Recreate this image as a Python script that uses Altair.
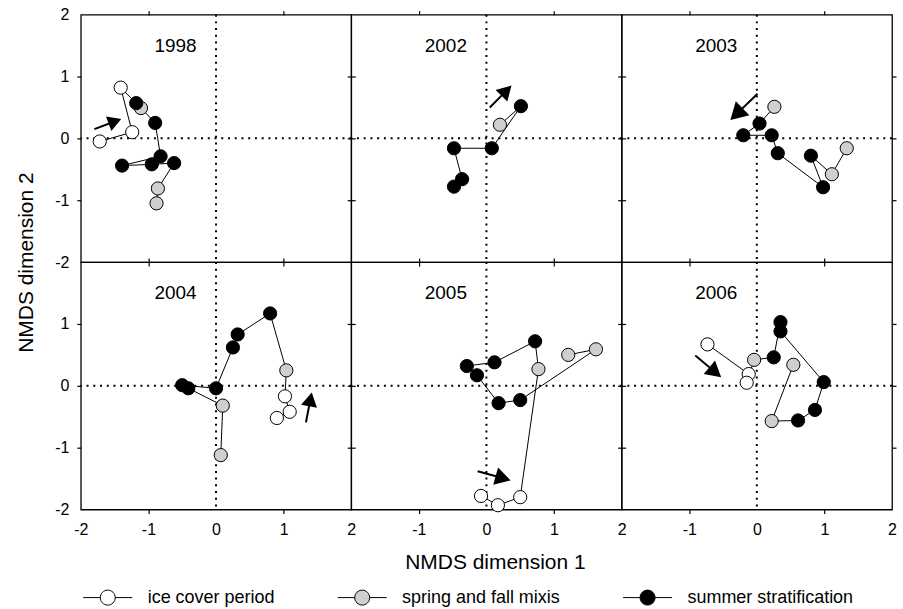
import numpy as np
import pandas as pd
import altair as alt

FONT = "Liberation Sans"
ICE, MIX, STRAT = "ice cover period", "spring and fall mixis", "summer stratification"
PHASES = [ICE, MIX, STRAT]
PHASE_FILLS = ["#ffffff", "#cfcfcf", "#000000"]

YEARS = ["1998", "2002", "2003", "2004", "2005", "2006"]

# NMDS trajectories (points in sampling order)
X_1998 = [-1.72, -1.24, -1.41, -1.11, -1.18, -0.90, -0.82, -1.39, -0.95, -0.62, -0.86, -0.88]
Y_1998 = [-0.05, 0.10, 0.82, 0.49, 0.57, 0.25, -0.29, -0.44, -0.42, -0.40, -0.81, -1.05]
P_1998 = [ICE, ICE, ICE, MIX, STRAT, STRAT, STRAT, STRAT, STRAT, STRAT, MIX, MIX]

X_2002 = [-0.48, -0.36, -0.48, 0.08, 0.51, 0.20]
Y_2002 = [-0.78, -0.66, -0.16, -0.16, 0.52, 0.22]
P_2002 = [STRAT, STRAT, STRAT, STRAT, STRAT, MIX]

X_2003 = [0.26, 0.04, -0.20, 0.22, 0.31, 0.98, 0.80, 1.11, 1.33]
Y_2003 = [0.51, 0.24, 0.05, 0.05, -0.24, -0.79, -0.28, -0.58, -0.16]
P_2003 = [MIX, STRAT, STRAT, STRAT, STRAT, STRAT, STRAT, MIX, MIX]

X_2004 = [0.90, 1.09, 1.02, 1.04, 0.80, 0.32, 0.25, 0.00, -0.50, -0.41, 0.10, 0.07]
Y_2004 = [-0.52, -0.42, -0.17, 0.25, 1.17, 0.83, 0.62, -0.04, 0.01, -0.04, -0.32, -1.12]
P_2004 = [ICE, ICE, ICE, MIX, STRAT, STRAT, STRAT, STRAT, STRAT, STRAT, MIX, MIX]

X_2005 = [-0.08, 0.17, 0.50, 0.77, 0.72, 0.12, -0.29, -0.14, 0.18, 0.50, 1.62, 1.21]
Y_2005 = [-1.78, -1.93, -1.80, 0.27, 0.72, 0.38, 0.32, 0.17, -0.28, -0.23, 0.59, 0.50]
P_2005 = [ICE, ICE, ICE, MIX, STRAT, STRAT, STRAT, STRAT, STRAT, STRAT, MIX, MIX]

X_2006 = [-0.73, -0.12, -0.15, -0.04, 0.25, 0.35, 0.35, 0.99, 0.86, 0.61, 0.22, 0.54]
Y_2006 = [0.67, 0.19, 0.05, 0.42, 0.46, 1.03, 0.88, 0.06, -0.39, -0.56, -0.57, 0.34]
P_2006 = [ICE, ICE, ICE, MIX, STRAT, STRAT, STRAT, STRAT, STRAT, STRAT, MIX, MIX]

# direction arrows (tail -> head), one per year
ARROW_X0 = [-1.80, 0.05, 0.01, 1.33, -0.13, -0.91]
ARROW_Y0 = [0.15, 0.50, 0.72, -0.59, -1.38, 0.49]
ARROW_X1 = [-1.43, 0.35, -0.37, 1.41, 0.33, -0.55]
ARROW_Y1 = [0.30, 0.83, 0.32, -0.14, -1.52, 0.16]

YEAR_LABEL_X = -0.6
YEAR_LABEL_Y = 1.5

SERIES = {
    "1998": (X_1998, Y_1998, P_1998),
    "2002": (X_2002, Y_2002, P_2002),
    "2003": (X_2003, Y_2003, P_2003),
    "2004": (X_2004, Y_2004, P_2004),
    "2005": (X_2005, Y_2005, P_2005),
    "2006": (X_2006, Y_2006, P_2006),
}

W, H = 271, 248
DOM = [-2, 2]
TICKS = [-2, -1, 0, 1, 2]
XTICK_COLOR = {"condition": {"test": "abs(datum.value) == 1", "value": "black"}, "value": "transparent"}
YTICK_COLOR = {"condition": {"test": "abs(datum.value) <= 1", "value": "black"}, "value": "transparent"}

ARROW_SHAPE = "M0,1L0,-0.3M-0.45,-0.22L0,-1L0.45,-0.22Z"
LEGEND_SHAPE = "M-3.27,0H-1M1,0H3.27M-1,0A1,1,0,1,0,1,0A1,1,0,1,0,-1,0Z"


def sc():
    return alt.Scale(domain=DOM, nice=False, zero=False)


def axis(orient, show_labels, tick_color, hide_value=None, **extra):
    kw = dict(orient=orient, values=TICKS, domain=False, grid=False, ticks=True,
              tickSize=4, tickWidth=1.2, tickColor=tick_color, labels=show_labels,
              labelFont=FONT, labelFontSize=16, labelColor="black", labelFlush=False,
              labelOverlap=False, labelPadding=8, title=None)
    if hide_value is not None:
        kw["labelExpr"] = f"datum.value == {hide_value} ? '' : toString(datum.value)"
    else:
        kw["labelExpr"] = "toString(datum.value)"
    kw.update(extra)
    return alt.Axis(**kw)


LEGEND = alt.Legend(title=None, orient="none", legendX=18, legendY=575,
                    direction="horizontal", symbolType=LEGEND_SHAPE, symbolSize=225,
                    symbolStrokeColor="black", symbolStrokeWidth=1,
                    labelFont=FONT, labelFontSize=18, labelColor="black", labelLimit=0,
                    labelOffset=31, columnPadding=60)


def panel(idx, year):
    col, row = idx % 3, idx // 3
    xs, ys, ps = SERIES[year]
    df = pd.DataFrame({"x": xs, "y": ys, "phase": ps, "seq": list(range(len(xs)))})
    zero = pd.DataFrame({"v": [0.0]})

    xkw = {}
    if row == 1 and col == 1:
        xkw = dict(title="NMDS dimension 1", titleX=144, titleY=59, titleAlign="center",
                   titleBaseline="alphabetic", titleAngle=0, titleFont=FONT,
                   titleFontSize=21, titleFontWeight="normal", titleColor="black")
    x_axis = axis("bottom", row == 1, XTICK_COLOR,
                  hide_value=(-2 if col > 0 else None), **xkw)
    ykw = {}
    if row == 0 and col == 0:
        ykw = dict(title="NMDS dimension 2", titleX=-54, titleY=H, titleAlign="center",
                   titleBaseline="middle", titleAngle=270, titleFont=FONT,
                   titleFontSize=21, titleFontWeight="normal", titleColor="black")
    y_axis = axis("left", col == 0, YTICK_COLOR,
                  hide_value=(2 if row > 0 else None), **ykw)

    vrule = alt.Chart(zero).mark_rule(color="black", strokeWidth=2, strokeDash=[2, 4.75]).encode(
        x=alt.X("v:Q", scale=sc(), axis=x_axis))
    hrule = alt.Chart(zero).mark_rule(color="black", strokeWidth=2, strokeDash=[2, 4.75]).encode(
        y=alt.Y("v:Q", scale=sc(), axis=y_axis))

    line = alt.Chart(df).mark_line(color="black", strokeWidth=1).encode(
        x=alt.X("x:Q", scale=sc(), axis=None),
        y=alt.Y("y:Q", scale=sc(), axis=None),
        order="seq:Q")

    pts = alt.Chart(df).mark_point(shape="circle", filled=True, size=175, stroke="black",
                                   strokeWidth=1, opacity=1).encode(
        x=alt.X("x:Q", scale=sc(), axis=None),
        y=alt.Y("y:Q", scale=sc(), axis=None),
        fill=alt.Fill("phase:N", scale=alt.Scale(domain=PHASES, range=PHASE_FILLS), legend=LEGEND))

    i = YEARS.index(year)
    dxp = (ARROW_X1[i] - ARROW_X0[i]) * W / 4
    dyp = (ARROW_Y1[i] - ARROW_Y0[i]) * H / 4
    ang = float(np.degrees(np.arctan2(dxp, dyp)) % 360)
    length = float(np.hypot(dxp, dyp))
    adf = pd.DataFrame({"x": [(ARROW_X0[i] + ARROW_X1[i]) / 2],
                        "y": [(ARROW_Y0[i] + ARROW_Y1[i]) / 2],
                        "angle": [ang], "size": [length ** 2]})
    arrow = alt.Chart(adf).mark_point(shape=ARROW_SHAPE, filled=True, fill="black",
                                      stroke="black", strokeWidth=2, opacity=1).encode(
        x=alt.X("x:Q", scale=sc(), axis=None),
        y=alt.Y("y:Q", scale=sc(), axis=None),
        angle=alt.Angle("angle:Q", scale=None),
        size=alt.Size("size:Q", scale=None))

    tdf = pd.DataFrame({"year": [year], "lx": [YEAR_LABEL_X], "ly": [YEAR_LABEL_Y]})
    label = alt.Chart(tdf).mark_text(font=FONT, fontSize=19, color="black",
                                     align="center", baseline="middle").encode(
        x=alt.X("lx:Q", scale=sc(), axis=axis("top", False, XTICK_COLOR)),
        y=alt.Y("ly:Q", scale=sc(), axis=axis("right", False, YTICK_COLOR)),
        text="year:N")

    return alt.layer(vrule, hrule, line, pts, arrow, label).resolve_axis(
        x="independent", y="independent").properties(width=W, height=H)


panels = [panel(k, y) for k, y in enumerate(YEARS)]

chart = alt.concat(*panels, columns=3, spacing=0, bounds="flush").resolve_scale(
    fill="shared").properties(
    padding={"left": 15, "top": 5, "right": 5, "bottom": 0}
).configure(font=FONT).configure_view(stroke="black", strokeWidth=1.3)

chart.save("out.html", embed_options={"renderer": "svg", "actions": False})
